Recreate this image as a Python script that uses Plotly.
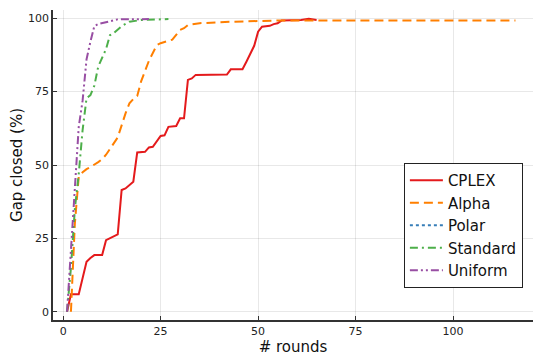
import plotly.graph_objects as go

# Gap closed (%) per cutting-plane round
cplex_x = [1, 2, 4, 6, 7, 8, 10, 11, 14, 15, 16, 18, 19, 21, 22, 23, 25, 26, 27, 29, 30, 31,
           32, 33, 34, 42, 43, 46, 47, 48, 49, 50, 51, 53, 54, 55, 56, 61, 63, 65]
cplex_y = [0, 6, 6, 17, 18.3, 19.3, 19.3, 24.4, 26.4, 41.5, 42, 44.3, 54.3, 54.5, 56, 56.2,
           59.9, 60.1, 63, 63.3, 65.9, 65.9, 79, 79.5, 80.7, 80.8, 82.6, 82.6, 85.2, 88,
           90.6, 95.4, 97.1, 97.4, 98, 98.3, 99.2, 99.4, 99.8, 99.4]

alpha_x = [2, 3, 4, 5, 6, 7, 9, 10, 11, 12, 14, 16, 17, 18, 19, 20, 22, 24, 25, 28, 30, 31,
           32, 35, 43, 55, 116]
alpha_y = [0, 30, 46, 47.5, 48.6, 49.3, 51, 52, 53.5, 55.5, 59.4, 67.6, 71, 72.5, 73.5,
           78.5, 85.5, 90.8, 91.5, 92.7, 96, 96.6, 97.7, 98.3, 98.8, 99.2, 99.2]

polar_x = []
polar_y = []

standard_x = [1, 2, 3, 4, 5, 6, 7, 8, 9, 10, 11, 12, 13, 15, 17, 20, 27]
standard_y = [0, 15, 35, 47, 62, 72.7, 73.8, 77, 83.5, 86.5, 89.5, 94.2, 95, 97.3, 98.8,
              99.4, 99.7]

uniform_x = [1, 2, 3, 4, 5, 6, 7, 8, 9, 11, 14, 22]
uniform_y = [0, 22, 45, 63, 72, 86, 92, 97.3, 98, 98.7, 99.6, 99.7]

series = [
    ('CPLEX', cplex_x, cplex_y, '#e41a1c', 'solid'),
    ('Alpha', alpha_x, alpha_y, '#ff7f00', '9px,5px'),
    ('Polar', polar_x, polar_y, '#377eb8', 'dot'),
    ('Standard', standard_x, standard_y, '#4daf4a', '8px,4px,2px,4px'),
    ('Uniform', uniform_x, uniform_y, '#984ea3', '8px,3px,2px,3px,2px,3px'),
]

data = []
for name, xs, ys, color, dash in series:
    data.append(go.Scatter(x=xs if xs else [None], y=ys if ys else [None],
                           mode='lines', name=name,
                           line=dict(color=color, width=2, dash=dash)))

axis_style = dict(showgrid=True, gridcolor='rgba(0,0,0,0.09)', gridwidth=1,
                  zeroline=False, showline=True, linecolor='#333333', linewidth=1.5,
                  ticks='inside', ticklen=4, tickcolor='#333333', automargin=False,
                  tickfont=dict(size=11, color='#222222'))

# page body has an 8px margin, so the figure box is shifted by 8px
layout = go.Layout(
    width=545, height=363,
    margin=dict(l=45, r=20, t=2, b=51),
    paper_bgcolor='white', plot_bgcolor='white',
    font=dict(family='DejaVu Sans', color='#111111'),
    xaxis=dict(axis_style, range=[-2.6, 120.5], tickvals=[0, 25, 50, 75, 100],
               title=dict(text='# rounds', font=dict(size=15), standoff=4)),
    yaxis=dict(axis_style, range=[-2.8, 102.8], tickvals=[0, 25, 50, 75, 100],
               title=dict(text='Gap closed (%)', font=dict(size=15), standoff=3)),
    legend=dict(x=0.731, xanchor='left', y=0.103, yanchor='bottom',
                bordercolor='#222222', borderwidth=1, bgcolor='white',
                font=dict(size=15), tracegroupgap=0, itemwidth=33,
                entrywidth=82),
    showlegend=True,
)

fig = go.Figure(data=data, layout=layout)
fig.write_html("out.html")
